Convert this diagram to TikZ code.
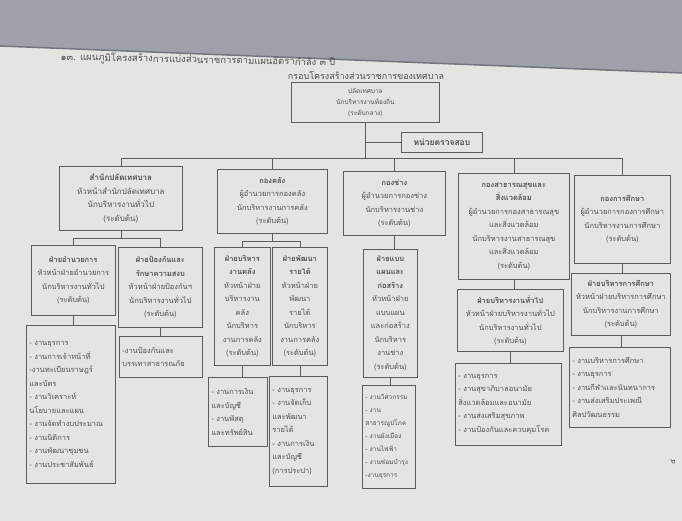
\documentclass[tikz,border=0pt]{standalone}
\usepackage{fontspec}
\newfontfamily\thai[Script=Thai]{Loma}
\definecolor{pagebg}{HTML}{E4E5E1}
\definecolor{bandgray}{HTML}{9EA0AA}
\definecolor{bandedge}{HTML}{74767F}
\definecolor{inkline}{HTML}{5C5C5C}
\definecolor{inktext}{HTML}{4F4F4F}

\begin{document}
\begin{tikzpicture}[
    x=1pt, y=-1pt,
    mybox/.style={
    draw=inkline,
    line width=0.7pt,
    anchor=north west,
    inner sep=2pt,
    align=center,
    text=inktext,
    font=\thai\fontsize{7.5}{13.5}\selectfont},
    mytask/.style={mybox, align=left, inner xsep=3pt},
    myline/.style={draw=inkline, line width=0.7pt}
    ]

    % page and photo edge
    \useasboundingbox (0,0) rectangle (682,521);
    \fill[pagebg] (0,0) rectangle (682,521);
    \fill[bandgray] (0,0) -- (682,0) -- (682,73) -- (0,46) -- cycle;
    \draw[bandedge, line width=1.5pt] (0,46) -- (682,73);
    \draw[white!80!gray, line width=1pt] (0,509) -- (682,505);

    \node[text=inktext, font=\thai\fontsize{9.5}{10}\selectfont, rotate=-1.2] (head) at (198,60)
        {๑๓. แผนภูมิโครงสร้างการแบ่งส่วนราชการตามแผนอัตรากำลัง ๓ ปี};
    \node[text=inktext, font=\thai\fontsize{9}{10}\selectfont] (title) at (366,75)
        {กรอบโครงสร้างส่วนราชการของเทศบาล};
    \node[text=inktext, font=\thai\fontsize{7}{8}\selectfont, rotate=90] (pg) at (673,462) {๕};

    % top
    \node[mybox, minimum width=148, minimum height=40, font=\thai\fontsize{6.5}{11}\selectfont] (chief) at (291,82)
        {ปลัดเทศบาล\\นักบริหารงานท้องถิ่น\\(ระดับกลาง)};
    \node[mybox, minimum width=81, minimum height=20, font=\thai\bfseries\fontsize{8.5}{10}\selectfont] (audit) at (401,132)
        {หน่วยตรวจสอบ};

    % divisions
    \node[mybox, minimum width=123, minimum height=64, font=\thai\fontsize{8}{13.5}\selectfont] (d1) at (59,166)
        {\textbf{สำนักปลัดเทศบาล}\\หัวหน้าสำนักปลัดเทศบาล\\นักบริหารงานทั่วไป\\(ระดับต้น)};
    \node[mybox, minimum width=110, minimum height=64] (d2) at (217,169)
        {\textbf{กองคลัง}\\ผู้อำนวยการกองคลัง\\นักบริหารงานการคลัง\\(ระดับต้น)};
    \node[mybox, minimum width=102, minimum height=64] (d3) at (343,171)
        {\textbf{กองช่าง}\\ผู้อำนวยการกองช่าง\\นักบริหารงานช่าง\\(ระดับต้น)};
    \node[mybox, minimum width=111, minimum height=106] (d4) at (458,173)
        {\textbf{กองสาธารณสุขและ}\\\textbf{สิ่งแวดล้อม}\\ผู้อำนวยการกองสาธารณสุข\\และสิ่งแวดล้อม\\นักบริหารงานสาธารณสุข\\และสิ่งแวดล้อม\\(ระดับต้น)};
    \node[mybox, minimum width=96, minimum height=88] (d5) at (574,175)
        {\textbf{กองการศึกษา}\\ผู้อำนวยการกองการศึกษา\\นักบริหารงานการศึกษา\\(ระดับต้น)};

    % sections
    \node[mybox, minimum width=84, minimum height=70] (s11) at (31,245)
        {\textbf{ฝ่ายอำนวยการ}\\หัวหน้าฝ่ายอำนวยการ\\นักบริหารงานทั่วไป\\(ระดับต้น)};
    \node[mybox, minimum width=84, minimum height=80] (s12) at (118,247)
        {\textbf{ฝ่ายป้องกันและ}\\\textbf{รักษาความสงบ}\\หัวหน้าฝ่ายป้องกันฯ\\นักบริหารงานทั่วไป\\(ระดับต้น)};
    \node[mybox, minimum width=56, minimum height=118] (s21) at (214,247)
        {\textbf{ฝ่ายบริหาร}\\\textbf{งานคลัง}\\หัวหน้าฝ่าย\\บริหารงาน\\คลัง\\นักบริหาร\\งานการคลัง\\(ระดับต้น)};
    \node[mybox, minimum width=55, minimum height=118] (s22) at (272,247)
        {\textbf{ฝ่ายพัฒนา}\\\textbf{รายได้}\\หัวหน้าฝ่าย\\พัฒนา\\รายได้\\นักบริหาร\\งานการคลัง\\(ระดับต้น)};
    \node[mybox, minimum width=54, minimum height=128] (s31) at (363,249)
        {\textbf{ฝ่ายแบบ}\\\textbf{แผนและ}\\\textbf{ก่อสร้าง}\\หัวหน้าฝ่าย\\แบบแผน\\และก่อสร้าง\\นักบริหาร\\งานช่าง\\(ระดับต้น)};
    \node[mybox, minimum width=106, minimum height=62] (s41) at (457,289)
        {\textbf{ฝ่ายบริหารงานทั่วไป}\\หัวหน้าฝ่ายบริหารงานทั่วไป\\นักบริหารงานทั่วไป\\(ระดับต้น)};
    \node[mybox, minimum width=99, minimum height=62] (s51) at (571,273)
        {\textbf{ฝ่ายบริหารการศึกษา}\\หัวหน้าฝ่ายบริหารการศึกษา\\นักบริหารงานการศึกษา\\(ระดับต้น)};

    % work lists
    \node[mytask, text width=83pt, minimum height=158] (t11) at (26,325)
        {- งานธุรการ\\- งานการเจ้าหน้าที่\\-งานทะเบียนราษฎร์\\และบัตร\\- งานวิเคราะห์\\นโยบายและแผน\\- งานจัดทำงบประมาณ\\- งานนิติการ\\- งานพัฒนาชุมชน\\- งานประชาสัมพันธ์};
    \node[mytask, text width=77pt, minimum height=41] (t12) at (119,336)
        {-งานป้องกันและ\\บรรเทาสาธารณภัย};
    \node[mytask, text width=53pt, minimum height=69] (t21) at (208,377)
        {- งานการเงิน\\และบัญชี\\- งานพัสดุ\\และทรัพย์สิน};
    \node[mytask, text width=52pt, minimum height=110] (t22) at (269,376)
        {- งานธุรการ\\- งานจัดเก็บ\\และพัฒนา\\รายได้\\- งานการเงิน\\และบัญชี\\(การประปา)};
    \node[mytask, text width=47pt, minimum height=103, font=\thai\fontsize{6.5}{13}\selectfont] (t31) at (362,385)
        {- งานวิศวกรรม\\- งาน\\สาธารณูปโภค\\- งานผังเมือง\\- งานไฟฟ้า\\- งานซ่อมบำรุง\\-งานธุรการ};
    \node[mytask, text width=100pt, minimum height=82] (t41) at (455,363)
        {- งานธุรการ\\- งานสุขาภิบาลอนามัย\\สิ่งแวดล้อมและอนามัย\\- งานส่งเสริมสุขภาพ\\- งานป้องกันและควบคุมโรค};
    \node[mytask, text width=95pt, minimum height=80] (t51) at (569,347)
        {- งานบริหารการศึกษา\\- งานธุรการ\\- งานกีฬาและนันทนาการ\\- งานส่งเสริมประเพณี\\ศิลปวัฒนธรรม};

    % connectors
    \coordinate (bus) at (0,158);
    \coordinate (bus1) at (0,238);
    \coordinate (bus2) at (0,241);
    \draw[myline] (chief.south) -- (chief.south |- bus);
    \draw[myline] (chief.south |- audit.west) -- (audit.west);
    \draw[myline] (d1.north) -- (d1.north |- bus) -- (d5.north |- bus) -- (d5.north);
    \foreach \d in {d2,d3,d4}
        \draw[myline] (\d.north) -- (\d.north |- bus);
    \draw[myline] (d1.south) -- (d1.south |- bus1);
    \draw[myline] (s11.north) -- (s11.north |- bus1) -- (s12.north |- bus1) -- (s12.north);
    \draw[myline] (d2.south) -- (d2.south |- bus2);
    \draw[myline] (s21.north) -- (s21.north |- bus2) -- (s22.north |- bus2) -- (s22.north);
    \foreach \a/\b in {d3/s31, d4/s41, d5/s51, s11/t11, s12/t12, s21/t21, s22/t22, s31/t31, s41/t41, s51/t51}
        \draw[myline] (\a.south) -- (\a.south |- \b.north);
\end{tikzpicture}
\end{document}
